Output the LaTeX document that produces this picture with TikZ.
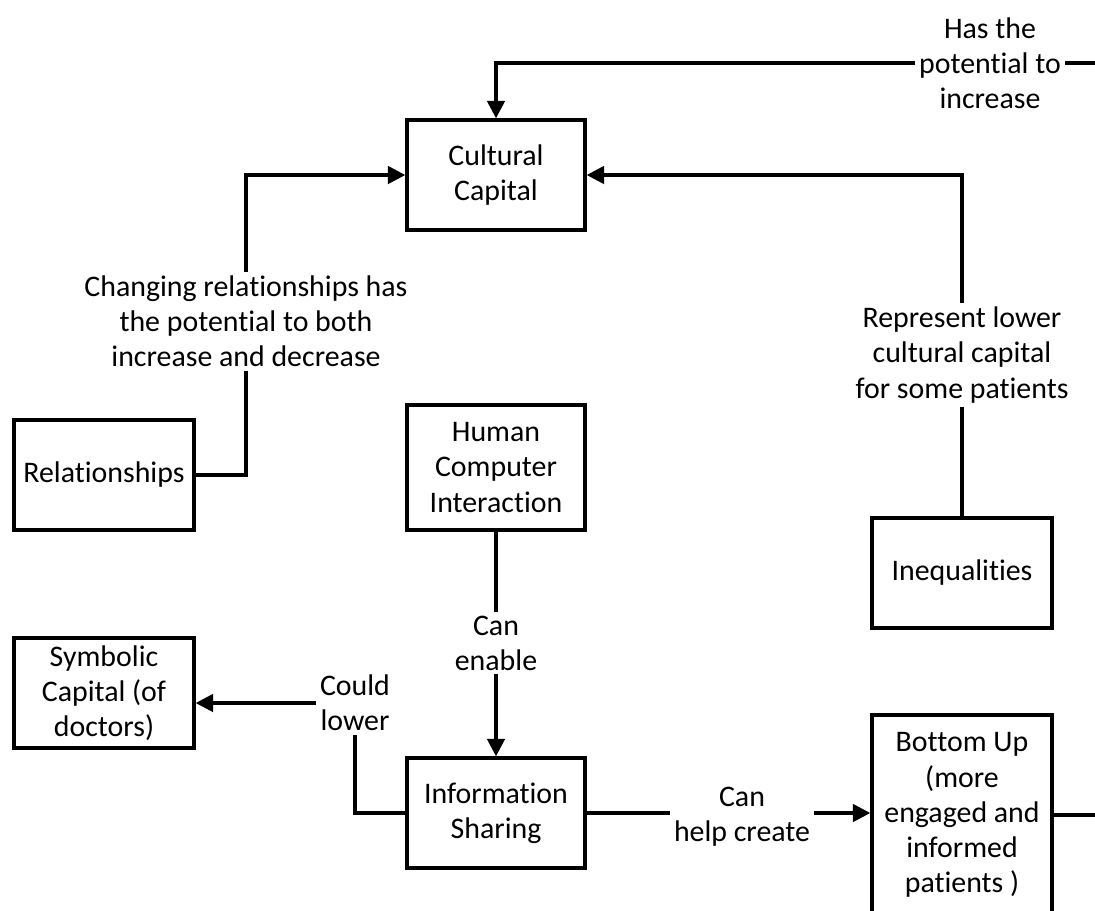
\documentclass[tikz,border=0pt]{standalone}
\usepackage{fontspec}
\setmainfont[Ligatures=NoCommon]{Carlito}
\usetikzlibrary{arrows.meta}
\tikzset{
  box/.style={draw, line width=1.9pt, align=center, minimum width=3.56cm, minimum height=2.2cm, inner sep=2pt},
  lbl/.style={fill=white, align=center, inner sep=2pt},
  line/.style={line width=1.9pt},
  arr/.style={line width=1.9pt, -{Triangle[length=10pt,width=10pt]}},
}
\begin{document}
\begin{tikzpicture}[font=\fontsize{17}{20}\selectfont]
\clip (0,0) rectangle (21.9,-18.2);
\fill[white] (0,0) rectangle (21.9,-18.2);

% boxes
\node[box] (cc) at (9.92,-3.5) {Cultural\\Capital};
\node[box, minimum width=3.6cm] (rel) at (2.08,-9.5) {Relationships};
\node[box, minimum height=2.5cm] (hci) at (9.92,-9.35) {Human\\Computer\\Interaction};
\node[box, minimum width=3.6cm] (ineq) at (19.24,-11.46) {Inequalities};
\node[box, minimum width=3.6cm] (sym) at (2.08,-13.86) {Symbolic\\Capital (of\\doctors)};
\node[box] (info) at (9.92,-16.26) {Information\\Sharing};
\node[box, minimum width=3.6cm, minimum height=4cm] (bu) at (19.24,-16.3) {Bottom Up\\(more\\engaged and\\informed\\patients )};

% labels
\node[lbl] (hp) at (19.8,-1.26) {Has the\\potential to\\increase};
\node[lbl] (cr) at (4.92,-6.42) {Changing relationships has\\the potential to both\\increase and decrease};
\node[lbl] (rl) at (19.24,-7.1) {Represent lower\\cultural capital\\for some patients};
\node[lbl] (ce) at (9.92,-12.86) {Can\\enable};
\node[lbl] (cl) at (7.1,-14.06) {Could\\lower};
\node[lbl] (hc) at (14.84,-16.34) {Can\\help create};

% connectors
\draw[line] (bu.east) -- (22.2,-16.3) |- (hp.east);
\draw[arr] (hp.west) -| (cc.north);
\draw[line] (rel.east) -| (cr.south);
\draw[arr] (cr.north) |- (cc.west);
\draw[line] (ineq.north) -- (rl.south);
\draw[arr] (rl.north) |- (cc.east);
\draw[line] (hci.south) -- (ce.north);
\draw[arr] (ce.south) -- (info.north);
\draw[line] (info.west) -| (cl.south);
\draw[arr] (cl.west) -- (cl.west -| sym.east);
\draw[line] (info.east) -- (hc.west |- info.east);
\draw[arr] (hc.east |- info.east) -- (bu.west |- info.east);
\end{tikzpicture}
\end{document}
